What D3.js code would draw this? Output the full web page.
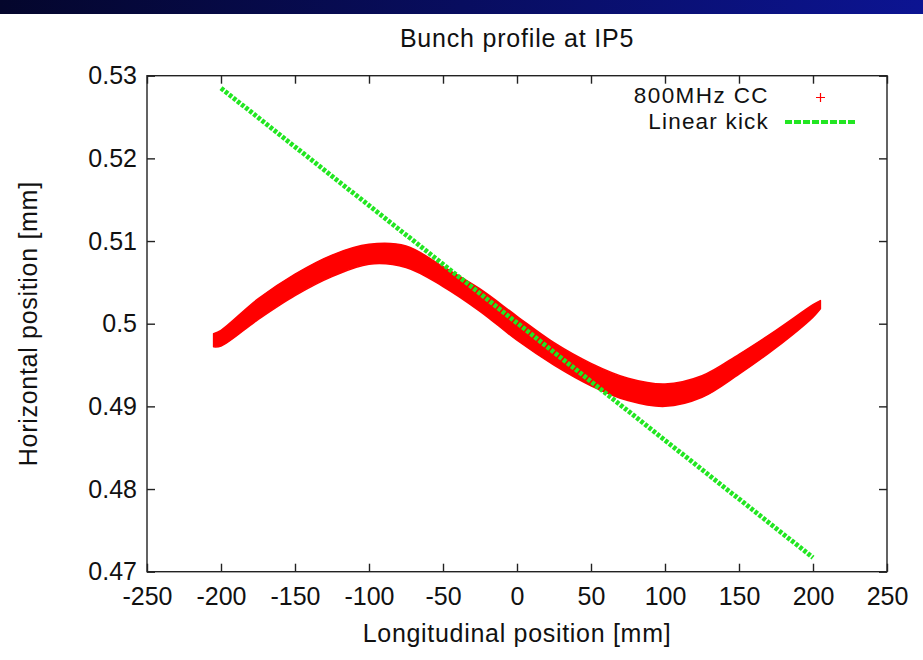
<!DOCTYPE html>
<html>
<head>
<meta charset="utf-8">
<script src="https://cdn.jsdelivr.net/npm/d3@7"></script>
<style>
  body { margin: 0; background: #ffffff; }
  svg { display: block; font-family: "Liberation Sans", Arial, Helvetica, sans-serif; }
</style>
</head>
<body>
<svg id="chart" width="923" height="660"></svg>
<script>
// Longitudinal position of the sampled slices along the bunch [mm]
const zPos = [-205, -200, -175, -150, -125, -100, -75, -50, -25, 0, 25, 50, 75, 100, 125, 150, 175, 200, 205];
// Upper and lower edge of the 800 MHz crab-cavity bunch profile [mm]
const upperEdge = [0.4988, 0.4992, 0.5030, 0.5060, 0.5083, 0.5096, 0.5094, 0.5069, 0.5042, 0.5009,
                   0.4977, 0.4952, 0.4934, 0.4927, 0.4937, 0.4963, 0.4992, 0.5023, 0.5028];
const lowerEdge = [0.4972, 0.4973, 0.5005, 0.5034, 0.5057, 0.5072, 0.5068, 0.5045, 0.5015, 0.4980,
                   0.4950, 0.4925, 0.4907, 0.4900, 0.4911, 0.4939, 0.4971, 0.5008, 0.5018];
// Linear kick reference
const kickZ = [-200, 200];
const kickX = [0.5285, 0.4717];
// Axis ticks
const xTicks = [-250, -200, -150, -100, -50, 0, 50, 100, 150, 200, 250];
const xTickLabels = ["-250", "-200", "-150", "-100", "-50", "0", "50", "100", "150", "200", "250"];
const yTicks = [0.47, 0.48, 0.49, 0.5, 0.51, 0.52, 0.53];
const yTickLabels = ["0.47", "0.48", "0.49", "0.5", "0.51", "0.52", "0.53"];

const svg = d3.select("#chart");
const W = 923, H = 660;
const frame = { left: 147, right: 887, top: 75.7, bottom: 571.7 };

// Header strip
const defs = svg.append("defs");
const grad = defs.append("linearGradient").attr("id", "hdr").attr("x1", "0").attr("x2", "1");
grad.append("stop").attr("offset", "0").attr("stop-color", "#04062c");
grad.append("stop").attr("offset", "1").attr("stop-color", "#0c1492");
svg.append("rect").attr("x", 0).attr("y", 0).attr("width", W).attr("height", 14).attr("fill", "url(#hdr)");

const x = d3.scaleLinear().domain([-250, 250]).range([frame.left, frame.right]);
const y = d3.scaleLinear().domain([0.47, 0.53]).range([frame.bottom, frame.top]);

const fontSize = 25;
const labelSpacing = "0.7px";
const textColor = "#111";

// Title
svg.append("text").attr("x", 517).attr("y", 47).attr("text-anchor", "middle")
  .attr("font-size", fontSize).attr("letter-spacing", "0.8px").attr("fill", textColor).text("Bunch profile at IP5");

// Bunch band
const band = zPos.map((z, i) => ({ z, hi: upperEdge[i], lo: lowerEdge[i] }));
const area = d3.area().x(d => x(d.z)).y0(d => y(d.lo)).y1(d => y(d.hi)).curve(d3.curveCatmullRom.alpha(0.5));
svg.append("path").datum(band).attr("d", area)
  .attr("fill", "#ff0000").attr("stroke", "#ff0000").attr("stroke-width", 1.5).attr("stroke-linejoin", "round");

// Linear kick line
const kick = kickZ.map((z, i) => ({ z, v: kickX[i] }));
svg.append("path").datum(kick)
  .attr("d", d3.line().x(d => x(d.z)).y(d => y(d.v)))
  .attr("fill", "none").attr("stroke", "#22e622").attr("stroke-width", 4.8)
  .attr("stroke-dasharray", "3.6,1.6");

// Frame
const axisColor = "#222";
svg.append("rect").attr("x", frame.left).attr("y", frame.top)
  .attr("width", frame.right - frame.left).attr("height", frame.bottom - frame.top)
  .attr("fill", "none").attr("stroke", axisColor).attr("stroke-width", 1.4);

// Inward ticks on all four sides
const tickLen = 8;
const xAxisB = d3.axisBottom(x).tickValues(xTicks).tickSizeInner(-tickLen).tickSizeOuter(0).tickPadding(16)
  .tickFormat((d, i) => xTickLabels[i]);
const xAxisT = d3.axisTop(x).tickValues(xTicks).tickSizeInner(-tickLen).tickSizeOuter(0).tickFormat("");
const yAxisL = d3.axisLeft(y).tickValues(yTicks).tickSizeInner(-tickLen).tickSizeOuter(0).tickPadding(10)
  .tickFormat((d, i) => yTickLabels[i]);
const yAxisR = d3.axisRight(y).tickValues(yTicks).tickSizeInner(-tickLen).tickSizeOuter(0).tickFormat("");

function styleAxis(g) {
  g.select(".domain").remove();
  g.selectAll(".tick line").attr("stroke", axisColor).attr("stroke-width", 1.4);
  g.selectAll(".tick text").attr("fill", textColor).attr("font-size", fontSize)
    .attr("font-family", "Liberation Sans, Arial, sans-serif");
}
svg.append("g").attr("transform", `translate(0,${frame.bottom})`).call(xAxisB).call(styleAxis);
svg.append("g").attr("transform", `translate(0,${frame.top})`).call(xAxisT).call(styleAxis);
svg.append("g").attr("transform", `translate(${frame.left},0)`).call(yAxisL).call(styleAxis);
svg.append("g").attr("transform", `translate(${frame.right},0)`).call(yAxisR).call(styleAxis);

// Axis titles
svg.append("text").attr("x", 517).attr("y", 642).attr("text-anchor", "middle")
  .attr("font-size", fontSize).attr("letter-spacing", labelSpacing).attr("fill", textColor)
  .text("Longitudinal position [mm]");
svg.append("text").attr("transform", `translate(37,${(frame.top + frame.bottom) / 2}) rotate(-90)`)
  .attr("text-anchor", "middle").attr("font-size", fontSize).attr("letter-spacing", labelSpacing).attr("fill", textColor)
  .text("Horizontal position [mm]");

// Legend
const legendSize = 22.5;
const legend = svg.append("g");
legend.append("text").attr("x", 769).attr("y", 103).attr("text-anchor", "end")
  .attr("font-size", legendSize).attr("letter-spacing", "1.4px").attr("fill", textColor).text("800MHz CC");
legend.append("path").attr("d", "M816,97.5h9M820.5,93v9").attr("stroke", "#ff0000").attr("stroke-width", 1.2);
legend.append("text").attr("x", 769).attr("y", 129).attr("text-anchor", "end")
  .attr("font-size", legendSize).attr("letter-spacing", "1.2px").attr("fill", textColor).text("Linear kick");
legend.append("line").attr("x1", 785).attr("x2", 857).attr("y1", 122).attr("y2", 122)
  .attr("stroke", "#22e622").attr("stroke-width", 4).attr("stroke-dasharray", "7,2");
</script>
</body>
</html>
